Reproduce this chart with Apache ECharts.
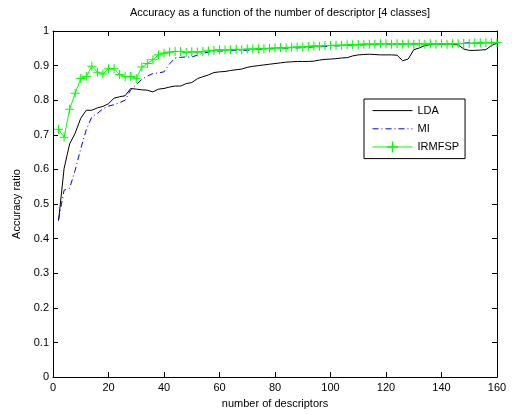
<!DOCTYPE html>
<html>
<head>
<meta charset="utf-8">
<script src="https://cdn.jsdelivr.net/npm/echarts@6/dist/echarts.min.js"></script>
<style>
  html, body { margin: 0; padding: 0; background: #fff; }
  #chart { width: 512px; height: 414px; }
</style>
</head>
<body>
<div id="chart"></div>
<script>
// number of descriptors
const descriptors = [
  2, 4, 6, 8, 10, 12, 14, 16, 18, 20, 22, 24, 26, 28, 30, 32, 34, 36, 38, 40,
  42, 44, 46, 48, 50, 52, 54, 56, 58, 60, 62, 64, 66, 68, 70, 72, 74, 76, 78, 80,
  82, 84, 86, 88, 90, 92, 94, 96, 98, 100, 102, 104, 106, 108, 110, 112, 114, 116, 118, 120,
  122, 124, 126, 128, 130, 132, 134, 136, 138, 140, 142, 144, 146, 148, 150, 152, 154, 156, 158, 160
];

const lda = [
  0.452, 0.603, 0.674, 0.705, 0.748, 0.771, 0.771, 0.778, 0.782, 0.790,
  0.806, 0.810, 0.813, 0.834, 0.832, 0.830, 0.829, 0.824, 0.832, 0.834,
  0.838, 0.841, 0.841, 0.848, 0.851, 0.862, 0.868, 0.873, 0.880, 0.882,
  0.883, 0.886, 0.888, 0.890, 0.895, 0.898, 0.900, 0.902, 0.904, 0.906,
  0.908, 0.910, 0.911, 0.912, 0.912, 0.912, 0.913, 0.916, 0.918, 0.919,
  0.920, 0.922, 0.923, 0.928, 0.931, 0.932, 0.933, 0.932, 0.931, 0.931,
  0.931, 0.930, 0.914, 0.919, 0.946, 0.951, 0.958, 0.961, 0.962, 0.962,
  0.962, 0.962, 0.960, 0.948, 0.944, 0.944, 0.945, 0.946, 0.958, 0.965
];

const mi = [
  0.455, 0.540, 0.546, 0.598, 0.660, 0.715, 0.752, 0.762, 0.775, 0.783,
  0.787, 0.793, 0.800, 0.830, 0.845, 0.860, 0.870, 0.877, 0.879, 0.882,
  0.905, 0.922, 0.924, 0.925, 0.925, 0.930, 0.936, 0.939, 0.941, 0.942,
  0.943, 0.944, 0.944, 0.944, 0.944, 0.946, 0.947, 0.948, 0.948, 0.949,
  0.950, 0.950, 0.951, 0.951, 0.952, 0.953, 0.954, 0.955, 0.955, 0.956,
  0.957, 0.957, 0.958, 0.959, 0.959, 0.960, 0.960, 0.961, 0.961, 0.962,
  0.962, 0.962, 0.962, 0.963, 0.963, 0.963, 0.963, 0.963, 0.963, 0.963,
  0.964, 0.964, 0.964, 0.965, 0.966, 0.966, 0.966, 0.966, 0.966, 0.966
];

const irmfsp = [
  0.716, 0.693, 0.774, 0.820, 0.863, 0.869, 0.898, 0.881, 0.876, 0.891,
  0.891, 0.874, 0.868, 0.869, 0.862, 0.896, 0.906, 0.917, 0.931, 0.936,
  0.939, 0.941, 0.941, 0.938, 0.940, 0.939, 0.941, 0.942, 0.944, 0.946,
  0.945, 0.946, 0.947, 0.946, 0.948, 0.948, 0.949, 0.949, 0.950, 0.951,
  0.952, 0.951, 0.953, 0.954, 0.954, 0.955, 0.957, 0.956, 0.958, 0.958,
  0.959, 0.959, 0.960, 0.960, 0.961, 0.962, 0.962, 0.962, 0.963, 0.963,
  0.962, 0.963, 0.962, 0.963, 0.962, 0.963, 0.962, 0.963, 0.962, 0.963,
  0.962, 0.963, 0.963, 0.964, 0.964, 0.965, 0.965, 0.966, 0.966, 0.967
];

const xTicks = [0, 20, 40, 60, 80, 100, 120, 140, 160];
const yTicks = [0, 0.1, 0.2, 0.3, 0.4, 0.5, 0.6, 0.7, 0.8, 0.9, 1];

const pairs = (ys) => descriptors.map((x, i) => [x, ys[i]]);
const FONT = 'Liberation Sans';
const GREEN = '#00ff00';
const plus = 'path://M4.4,0H5.6V4.4H10V5.6H5.6V10H4.4V5.6H0V4.4H4.4Z';

const chart = echarts.init(document.getElementById('chart'));

const boxAxis = {
  axisLine: { show: true, onZero: false, lineStyle: { color: '#000', width: 1 } },
  axisTick: { show: true, inside: true, length: 5, lineStyle: { color: '#000' } },
  splitLine: { show: false }
};

chart.setOption({
  animation: false,
  backgroundColor: '#fff',
  textStyle: { fontFamily: FONT },
  title: {
    text: 'Accuracy as a function of the number of descriptor [4 classes]',
    left: 275,
    top: 2,
    textAlign: 'center',
    textStyle: { fontFamily: FONT, fontSize: 11, fontWeight: 'normal', color: '#000' }
  },
  grid: { left: 53, right: 15, top: 31, bottom: 33 },
  legend: {
    orient: 'vertical',
    left: 364,
    top: 99,
    itemWidth: 40,
    itemHeight: 14,
    itemGap: 7,
    padding: [6, 6, 6, 8],
    borderColor: '#000',
    borderWidth: 1,
    backgroundColor: '#fff',
    textStyle: { fontFamily: FONT, fontSize: 11, color: '#000' },
    data: [
      { name: 'LDA', itemStyle: { opacity: 0 }, lineStyle: { width: 1 } },
      { name: 'MI', itemStyle: { opacity: 0 }, lineStyle: { width: 1 } },
      { name: 'IRMFSP', lineStyle: { width: 1 } }
    ]
  },
  xAxis: [
    Object.assign({
      type: 'value', min: 0, max: 160, interval: 20, position: 'bottom',
      name: 'number of descriptors', nameLocation: 'middle', nameGap: 18,
      nameTextStyle: { fontFamily: FONT, fontSize: 11, color: '#000' },
      axisLabel: {
        margin: 5, fontFamily: FONT, fontSize: 11, color: '#000',
        formatter: (v) => xTicks.includes(v) ? String(v) : ''
      }
    }, boxAxis),
    Object.assign({
      type: 'value', min: 0, max: 160, interval: 20, position: 'top',
      axisLabel: { show: false }
    }, boxAxis)
  ],
  yAxis: [
    Object.assign({
      type: 'value', min: 0, max: 1, interval: 0.1, position: 'left',
      name: 'Accuracy ratio', nameLocation: 'middle', nameGap: 31,
      nameTextStyle: { fontFamily: FONT, fontSize: 11, color: '#000' },
      axisLabel: {
        margin: 4, fontFamily: FONT, fontSize: 11, color: '#000',
        formatter: (v) => {
          const t = yTicks.find((y) => Math.abs(y - v) < 1e-9);
          return t === undefined ? '' : String(t);
        }
      }
    }, boxAxis),
    Object.assign({
      type: 'value', min: 0, max: 1, interval: 0.1, position: 'right',
      axisLabel: { show: false }
    }, boxAxis)
  ],
  series: [
    {
      name: 'LDA', type: 'line', data: pairs(lda),
      symbol: 'none', color: '#000',
      lineStyle: { color: '#000', width: 1 }
    },
    {
      name: 'MI', type: 'line', data: pairs(mi),
      symbol: 'none', color: '#0000ff',
      lineStyle: { color: '#0000ff', width: 1, type: [6, 3, 1, 3] }
    },
    {
      name: 'IRMFSP', type: 'line', data: pairs(irmfsp),
      symbol: plus, symbolSize: 9, showSymbol: true, color: GREEN,
      itemStyle: { color: GREEN },
      lineStyle: { color: GREEN, width: 1 }
    }
  ]
});
</script>
</body>
</html>
